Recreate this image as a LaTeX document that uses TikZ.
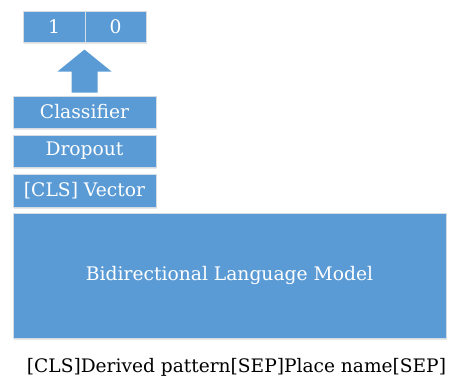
\documentclass[tikz,border=0pt]{standalone}
\usepackage{fontspec}
\setmainfont{DejaVu Serif}
\usepackage{xcolor}
\usepackage{tikz}
\usetikzlibrary{shadows}
\definecolor{boxblue}{HTML}{5B9BD5}
\definecolor{boxline}{HTML}{D6DCE4}

\begin{document}
\begin{tikzpicture}[x=1pt,y=-1pt,
  box/.style={fill=boxblue,draw=boxline,line width=.9pt,text=white,
   inner sep=0pt,font=\fontsize{18.7}{22}\selectfont,
   drop shadow={opacity=.18,shadow xshift=1pt,shadow yshift=-1.5pt}}]
 \useasboundingbox (0,0) rectangle (449,383);
 \node[box,minimum width=62,minimum height=31] (one) at (54,26.5) {1};
 \node[box,minimum width=61,minimum height=31] (zero) at (115.5,26.5) {0};
 \node[box,minimum width=143,minimum height=32] (clf) at (84.5,112) {Classifier};
 \node[box,minimum width=143,minimum height=32] (drop) at (84.5,151) {Dropout};
 \node[box,minimum width=143,minimum height=33] (cls) at (84.5,190.5) {[CLS] Vector};
 \node[box,minimum width=433,minimum height=125] (blm) at (229.5,275.5)
  {Bidirectional Language Model};
 \node[font=\fontsize{18.6}{22}\selectfont] (inp) at (236.5,367)
  {[CLS]Derived pattern[SEP]Place name[SEP]};
 \fill[boxblue] ([yshift=3pt]clf.north) +(-13,0) -- +(13,0) -- +(13,-21)
  -- +(27,-21) -- +(0,-43) -- +(-27,-21) -- +(-13,-21) -- cycle;
\end{tikzpicture}
\end{document}
